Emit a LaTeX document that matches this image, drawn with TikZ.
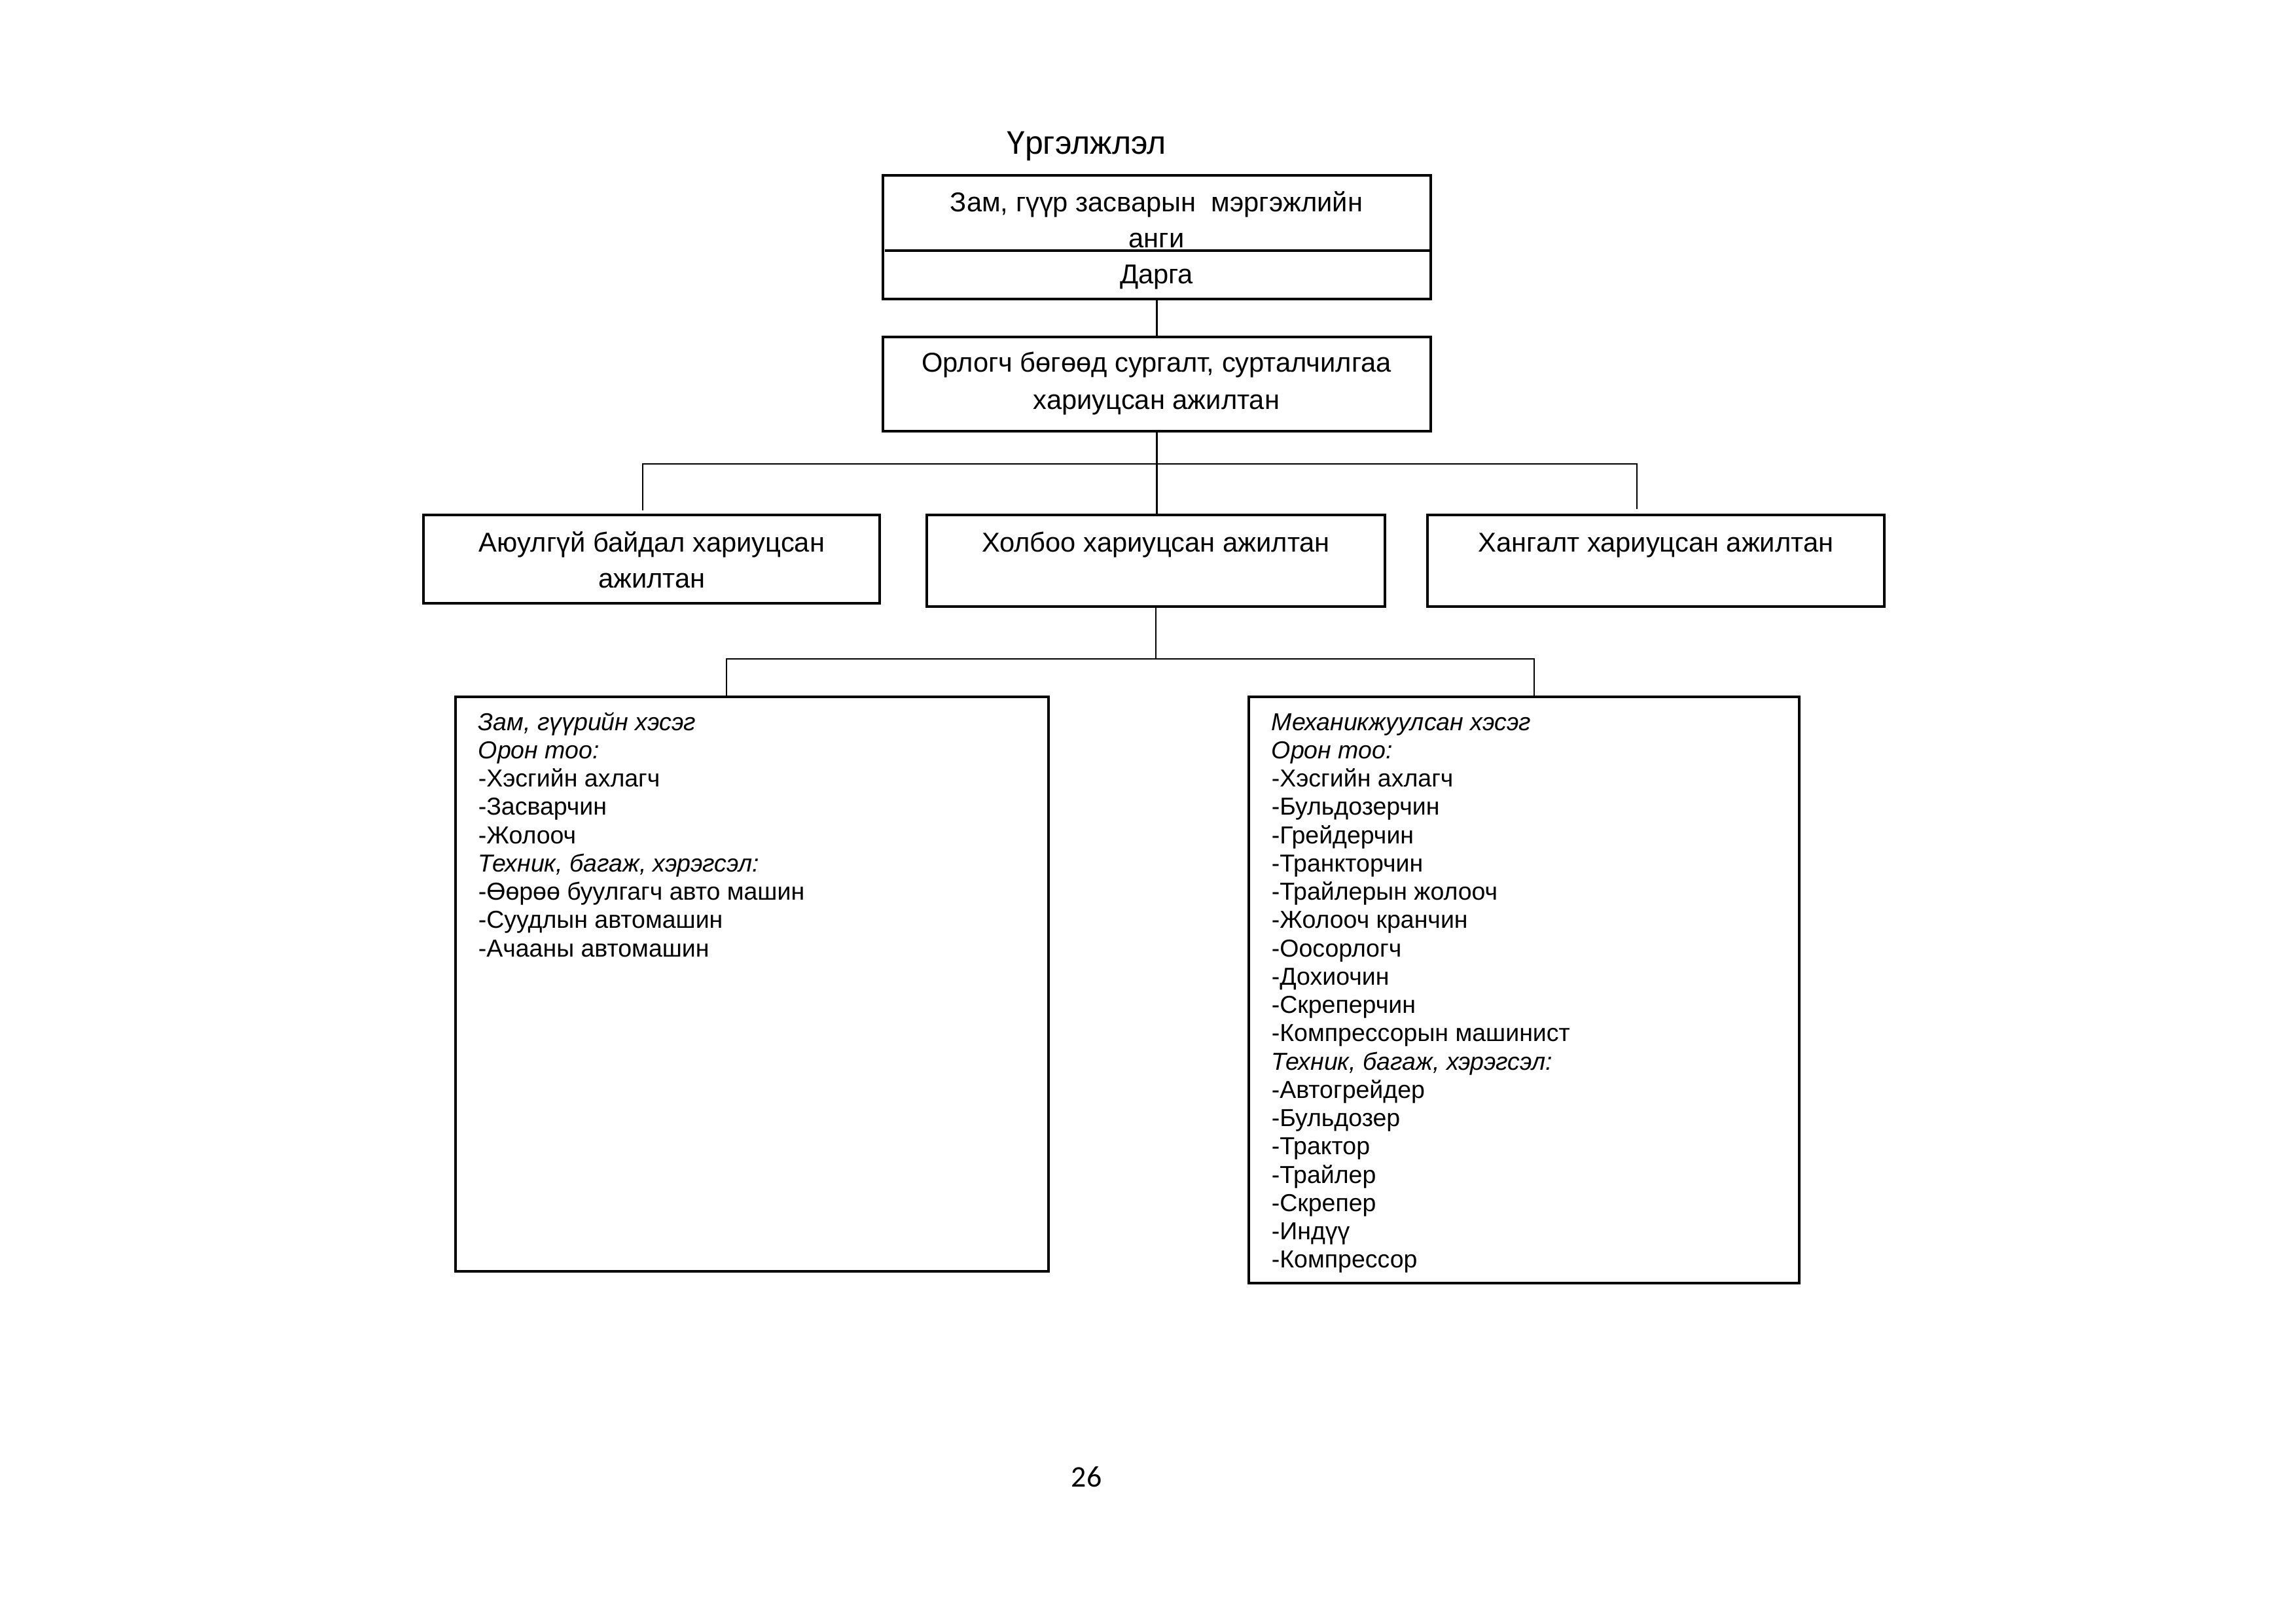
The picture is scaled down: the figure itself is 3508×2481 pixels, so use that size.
\documentclass[tikz,border=0pt]{standalone}
\usepackage{fontspec}
\setmainfont{Liberation Sans}
\newfontfamily\pagefont{Carlito}
\usetikzlibrary{fit}
\begin{document}
\begin{tikzpicture}[x=0.24pt,y=-0.24pt,
  box/.style={draw, line width=0.75pt, inner sep=0pt},
  conn/.style={line width=0.6pt},
  hd/.style={font=\fontsize{10}{12}\selectfont, inner sep=0pt, anchor=base},
  li/.style={font=\fontsize{9}{10.5}\selectfont, inner sep=0pt, anchor=base west},
  ttl/.style={font=\fontsize{12}{14}\selectfont, inner sep=0pt, anchor=base}]
\useasboundingbox[fill=white] (0,0) rectangle (3508,2481);

% boxes
\node[box, fit={(1349,268) (2186,457)}] (unit) {};
\draw[line width=0.75pt] (1352,383) -- (2186,383);
\node[box, fit={(1349,515) (2186,659)}] (dep) {};
\node[box, fit={(647,787) (1344,922)}] (safe) {};
\node[box, fit={(1416,787) (2116,927)}] (comm) {};
\node[box, fit={(2181,787) (2879,927)}] (supp) {};
\node[box, fit={(696,1065) (1602,1943)}] (road) {};
\node[box, fit={(1908,1065) (2749,1961)}] (mech) {};

% connectors
\coordinate (bl) at (982,709);
\coordinate (br) at (2501,709);
\coordinate (bld) at (982,780);
\coordinate (brd) at (2501,778);
\coordinate (cl) at (1110,1007);
\coordinate (cr) at (2344,1007);
\draw[conn] (unit.south) -- (dep.north);
\draw[conn] (dep.south) -- (dep.south |- comm.north);
\draw[conn] (bld) -- (bl) -- (br) -- (brd);
\draw[conn] (comm.south) -- (comm.south |- cl);
\draw[conn] (road.north -| cl) -- (cl) -- (cr) -- (mech.north -| cr);

% texts
\node[ttl] (title) at (1660,235) {Үргэлжлэл};
\node[hd] (u1) at (1767,323) {Зам, гүүр засварын\ \ мэргэжлийн};
\node[hd] (u2) at (1767,378) {анги};
\node[hd] (u3) at (1767,433) {Дарга};
\node[hd] (d1) at (1767,568) {Орлогч бөгөөд сургалт, сурталчилгаа};
\node[hd] (d2) at (1767,625) {хариуцсан ажилтан};
\node[hd] (s1) at (996,843) {Аюулгүй байдал хариуцсан};
\node[hd] (s2) at (996,898) {ажилтан};
\node[hd] (c1) at (1766,843) {Холбоо хариуцсан ажилтан};
\node[hd] (p1) at (2530,843) {Хангалт хариуцсан ажилтан};

\foreach \t [count=\i from 0] in {
  {\textit{Зам, гүүрийн хэсэг}},
  {\textit{Орон тоо:}},
  {-Хэсгийн ахлагч},
  {-Засварчин},
  {-Жолооч},
  {\textit{Техник, багаж, хэрэгсэл:}},
  {-Өөрөө буулгагч авто машин},
  {-Суудлын автомашин},
  {-Ачааны автомашин}}
  \node[li] (r\i) at ({730},{1116+43.25*\i}) {\t};

\foreach \t [count=\i from 0] in {
  {\textit{Механикжуулсан хэсэг}},
  {\textit{Орон тоо:}},
  {-Хэсгийн ахлагч},
  {-Бульдозерчин},
  {-Грейдерчин},
  {-Транкторчин},
  {-Трайлерын жолооч},
  {-Жолооч кранчин},
  {-Оосорлогч},
  {-Дохиочин},
  {-Скреперчин},
  {-Компрессорын машинист},
  {\textit{Техник, багаж, хэрэгсэл:}},
  {-Автогрейдер},
  {-Бульдозер},
  {-Трактор},
  {-Трайлер},
  {-Скрепер},
  {-Индүү},
  {-Компрессор}}
  \node[li] (m\i) at ({1942},{1116+43.25*\i}) {\t};

\node[font=\pagefont\fontsize{11}{13}\selectfont, inner sep=0pt, anchor=base] (pg) at (1660,2272) {26};
\end{tikzpicture}
\end{document}
